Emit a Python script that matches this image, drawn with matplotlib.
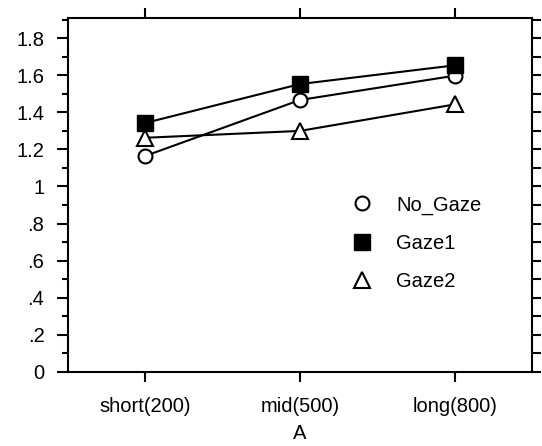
import numpy as np
import matplotlib
matplotlib.use("Agg")
import matplotlib.pyplot as plt
from matplotlib.lines import Line2D
from matplotlib.ticker import MultipleLocator

plt.rcParams['font.family'] = ['Liberation Sans', 'DejaVu Sans']

# data
categories = ['short(200)', 'mid(500)', 'long(800)']
no_gaze = [1.165, 1.467, 1.598]
gaze1 = [1.343, 1.553, 1.654]
gaze2 = [1.263, 1.300, 1.443]
y_ticks = [0, 0.2, 0.4, 0.6, 0.8, 1.0, 1.2, 1.4, 1.6, 1.8]
y_labels = ['0', '.2', '.4', '.6', '.8', '1', '1.2', '1.4', '1.6', '1.8']

fs = 14.5

fig = plt.figure(figsize=(5.42, 4.46), dpi=100)
ax = fig.add_axes([68 / 542, 1 - 371.7 / 446, 464 / 542, 353.4 / 446])

x = np.arange(len(categories))
lw = 1.5
ax.plot(x, no_gaze, color='black', lw=lw, marker='o', ms=10,
        mfc='white', mec='black', mew=1.5, zorder=3)
ax.plot(x, gaze1, color='black', lw=lw, marker='s', ms=12,
        mfc='black', mec='black', zorder=4)
ax.plot(x, gaze2, color='black', lw=lw, marker='^', ms=11.5,
        mfc='white', mec='black', mew=1.5, zorder=5)

ax.set_xlim(-0.5, 2.5)
ax.set_ylim(0, 1.908)
ax.set_xticks(x)
ax.set_xticklabels(categories, fontsize=fs)
ax.set_yticks(y_ticks)
ax.set_yticklabels(y_labels, fontsize=fs)
ax.yaxis.set_minor_locator(MultipleLocator(0.1))
ax.set_xlabel('A', fontsize=fs, labelpad=6)

for s in ax.spines.values():
    s.set_linewidth(1.5)

ax.tick_params(axis='x', which='major', direction='out', length=7.2, width=1.5,
               top=True, bottom=True, pad=11)
ax.tick_params(axis='y', which='major', direction='out', length=8, width=1.5,
               left=True, right=True, pad=9)
ax.tick_params(axis='y', which='minor', direction='out', length=4.3, width=1.5,
               left=True, right=True)
# right side ticks are all the same length
for t in ax.yaxis.get_major_ticks():
    t.tick2line.set_markersize(6.7)
for t in ax.yaxis.get_minor_ticks():
    t.tick2line.set_markersize(6.7)

handles = [
    Line2D([], [], ls='none', marker='o', ms=10, mfc='white', mec='black', mew=1.5),
    Line2D([], [], ls='none', marker='s', ms=12, mfc='black', mec='black'),
    Line2D([], [], ls='none', marker='^', ms=11.5, mfc='white', mec='black', mew=1.5),
]
ax.legend(handles, ['No_Gaze', 'Gaze1', 'Gaze2'], frameon=False, fontsize=fs,
          loc='upper left', bbox_to_anchor=(0.5685, 0.55), handlelength=1.2,
          handletextpad=1.1, labelspacing=0.95)

fig.savefig('out.png', dpi=100)
